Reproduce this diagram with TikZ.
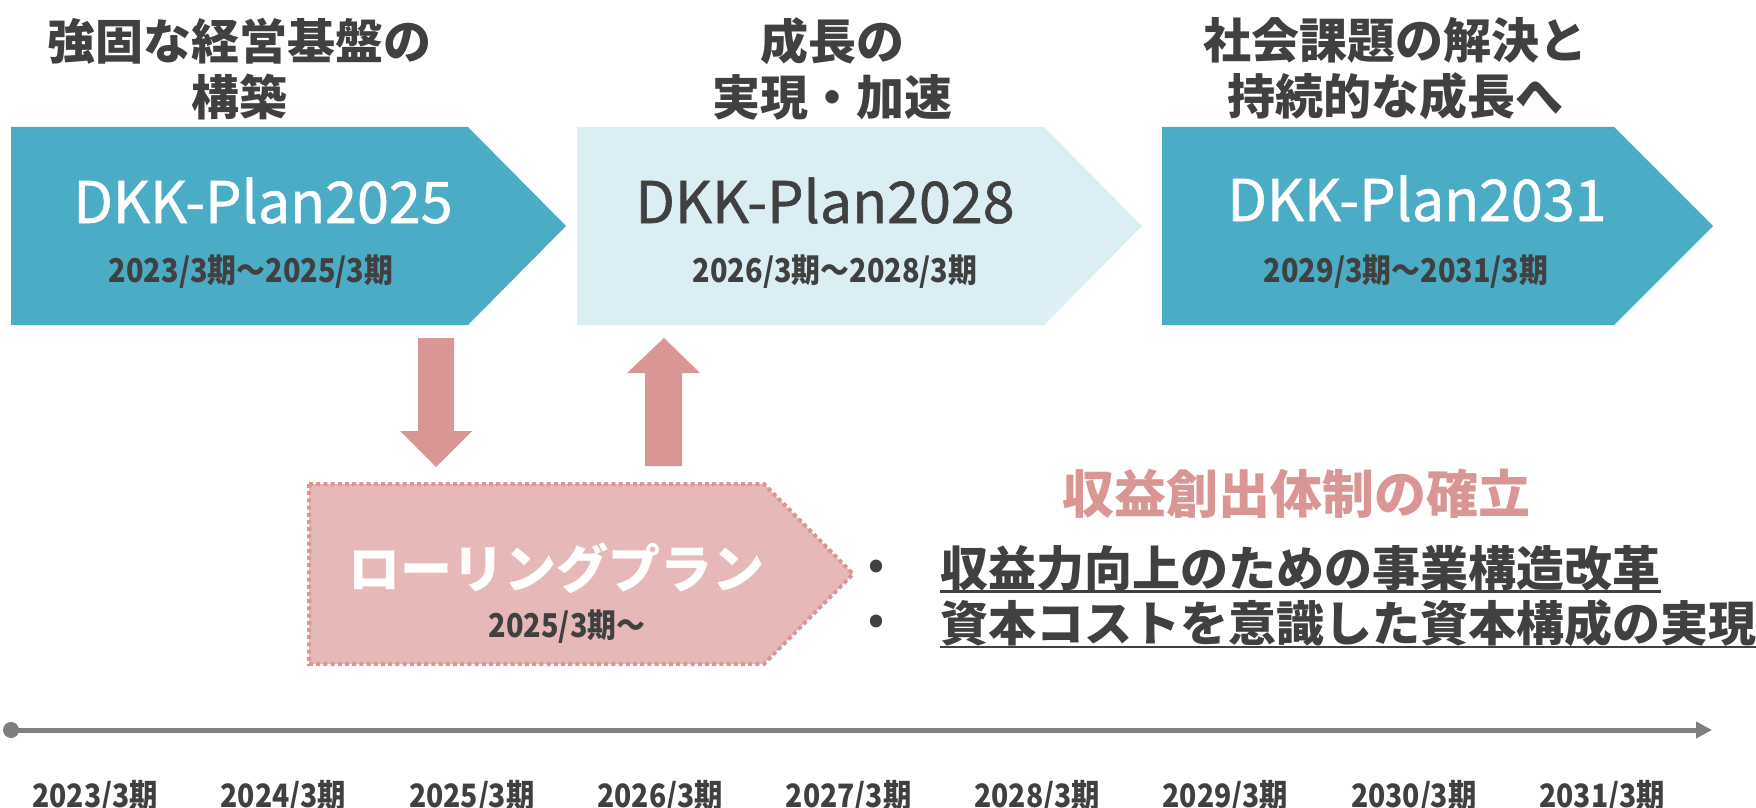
\documentclass[tikz,border=0pt]{standalone}
\usepackage{fontspec}
\setmainfont{Noto Sans CJK JP}
\newfontfamily\narrowfont{Noto Sans CJK JP}[FakeStretch=0.88]
\newfontfamily\planfont{Noto Sans CJK JP}[FakeBold=1]
\usetikzlibrary{arrows.meta}
\definecolor{planblue}{HTML}{4BACC6}
\definecolor{planpale}{HTML}{DAEEF3}
\definecolor{rollfill}{HTML}{E6B8B7}
\definecolor{rollline}{HTML}{D99694}
\definecolor{txtgray}{HTML}{404040}
\definecolor{axisgray}{HTML}{7F7F7F}
\tikzset{
	title/.style={font=\bfseries\fontsize{24}{28}\selectfont, text=txtgray, align=center, inner sep=0pt},
	planname/.style={font=\planfont\fontsize{28.7}{33}\selectfont, inner sep=0pt, anchor=base},
	period/.style={font=\narrowfont\bfseries\fontsize{16.4}{20}\selectfont, text=txtgray, inner sep=0pt, anchor=base},
	yearlbl/.style={font=\narrowfont\bfseries\fontsize{16.1}{18}\selectfont, text=txtgray, inner sep=0pt, anchor=base},
	item/.style={font=\bfseries\fontsize{24}{28}\selectfont, text=txtgray, inner sep=0pt, anchor=west},
	uline/.style={txtgray, line width=1.2pt},
}

\begin{document}
\begin{tikzpicture}[x=0.5pt, y=-0.5pt]
	\useasboundingbox (0,0) rectangle (1756,808);
	
	% plans
	\fill[planblue] (11,127) -- (468,127) -- (566,226) -- (468,325) -- (11,325) -- cycle;
	\fill[planpale] (577,127) -- (1044,127) -- (1142,226) -- (1044,325) -- (577,325) -- cycle;
	\fill[planblue] (1162,127) -- (1614,127) -- (1713,226) -- (1614,325) -- (1162,325) -- cycle;
	
	\node[title] (aim1) at (239,69) {強固な経営基盤の\\構築};
	\node[title] (aim2) at (832,69) {成長の\\実現・加速};
	\node[title] (aim3) at (1395,69) {社会課題の解決と\\持続的な成長へ};
	
	\node[planname, text=white] (plan1) at (263,223) {DKK-Plan2025};
	\node[planname, text=txtgray] (plan2) at (825,223) {DKK-Plan2028};
	\node[planname, text=white] (plan3) at (1417,221) {DKK-Plan2031};
	\node[period] (per1) at (251,282) {2023/3期〜2025/3期};
	\node[period] (per2) at (835,282) {2026/3期〜2028/3期};
	\node[period] (per3) at (1406,282) {2029/3期〜2031/3期};
	
	% rolling plan
	\draw[rollline, fill=rollfill, line width=2pt, dash pattern=on 2pt off 1.6pt]
		(309,484) -- (764,484) -- (853,574) -- (764,664) -- (309,664) -- cycle;
	\node[font=\bfseries\fontsize{26}{30}\selectfont, text=white, inner sep=0pt] (roll) at (556,568) {ローリングプラン};
	\node[font=\narrowfont\bfseries\fontsize{16.4}{20}\selectfont, text=txtgray, inner sep=0pt] (rollper) at (567,627) {2025/3期〜};
	
	\fill[rollline] (418,338) -- (454,338) -- (454,431) -- (472,431) -- (436,467) -- (400,431) -- (418,431) -- cycle;
	\fill[rollline] (645,466) -- (682,466) -- (682,373) -- (700,373) -- (664,338) -- (627,373) -- (645,373) -- cycle;
	
	% goals
	\node[font=\bfseries\fontsize{26}{30}\selectfont, text=rollline, inner sep=0pt] (goal) at (1296,494) {収益創出体制の確立};
	\node[font=\bfseries\fontsize{20}{24}\selectfont, text=txtgray, inner sep=0pt] (dot1) at (876,569) {•};
	\node[font=\bfseries\fontsize{20}{24}\selectfont, text=txtgray, inner sep=0pt] (dot2) at (876,624) {•};
	\node[item] (goal1) at (940,568) {収益力向上のための事業構造改革};
	\node[item] (goal2) at (940,623) {資本コストを意識した資本構成の実現};
	\draw[uline] (goal1.south west) -- (goal1.south east);
	\draw[uline] (goal2.south west) -- (goal2.south east);
	
	% timeline
	\coordinate (t0) at (11,730);
	\coordinate (t1) at (1712,730);
	\draw[axisgray, line width=2.5pt, -{Triangle[length=8pt, width=8pt]}] (t0) -- (t1);
	\fill[axisgray] (t0) circle (4pt);
	\foreach \yr [count=\i from 0] in {2023,...,2031}
		\node[yearlbl] (yr\yr) at ({95+188.4*\i},807) {\yr/3期};
\end{tikzpicture}
\end{document}
